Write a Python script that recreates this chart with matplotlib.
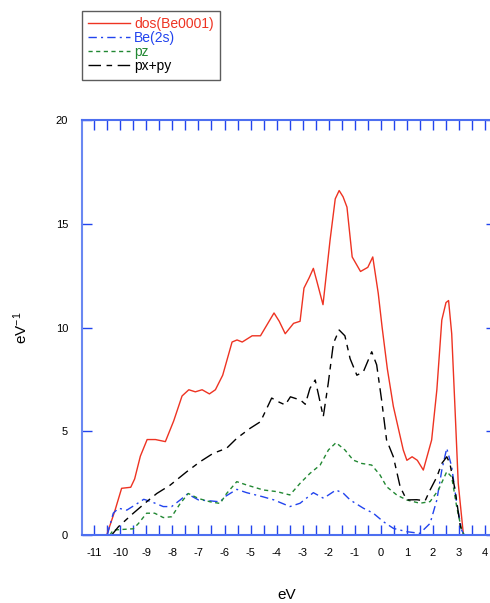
import matplotlib

matplotlib.use("Agg")
import matplotlib.pyplot as plt
from matplotlib.ticker import MultipleLocator

plt.rcParams["font.family"] = ["Liberation Sans", "DejaVu Sans"]
plt.rcParams["mathtext.default"] = "regular"
plt.rcParams["axes.unicode_minus"] = False

# total dos (Be0001 surface)
dos_x = [-10.52, -10.2, -9.95, -9.6, -9.45, -9.23, -8.97, -8.65, -8.27, -7.95, -7.63, -7.37,
         -7.12, -6.86, -6.58, -6.35, -6.07, -5.71, -5.52, -5.32, -4.94, -4.62, -4.1, -3.9,
         -3.67, -3.35, -3.1, -2.95, -2.75, -2.59, -2.45, -2.22, -1.95, -1.75, -1.6, -1.45,
         -1.3, -1.1, -0.78, -0.5, -0.31, -0.1, 0.05, 0.25, 0.48, 0.86, 1.0, 1.2, 1.4, 1.63,
         1.95, 2.15, 2.34, 2.5, 2.6, 2.72, 2.85, 2.97, 3.17]
dos_y = [0.0, 1.2, 2.25, 2.3, 2.7, 3.8, 4.6, 4.6, 4.5, 5.5, 6.7, 7.0,
         6.9, 7.0, 6.8, 7.0, 7.7, 9.3, 9.4, 9.3, 9.6, 9.6, 10.7, 10.3,
         9.7, 10.2, 10.3, 11.9, 12.4, 12.85, 12.2, 11.1, 14.2, 16.2, 16.6, 16.3,
         15.8, 13.4, 12.7, 12.9, 13.4, 11.65, 10.0, 8.0, 6.2, 4.1, 3.6, 3.77, 3.6, 3.13,
         4.58, 7.0, 10.36, 11.2, 11.3, 9.7, 6.0, 2.5, 0.0]

# Be(2s)
be2s_x = [-10.5, -10.27, -10.07, -9.75, -9.43, -9.1, -8.8, -8.35, -8.03, -7.7, -7.42, -7.0,
          -6.6, -6.17, -5.98, -5.53, -5.15, -4.55, -4.1, -3.49, -3.1, -2.59, -2.2, -1.72,
          -1.43, -1.18, -0.67, -0.29, 0.1, 0.48, 0.99, 1.5, 1.89, 2.15, 2.34, 2.53, 2.72,
          2.91, 3.1, 3.2]
be2s_y = [0.0, 1.05, 1.29, 1.2, 1.45, 1.72, 1.6, 1.37, 1.37, 1.69, 1.98, 1.69,
          1.65, 1.6, 1.85, 2.2, 2.04, 1.85, 1.69, 1.37, 1.53, 2.04, 1.77, 2.17,
          2.0, 1.69, 1.29, 1.05, 0.64, 0.32, 0.16, 0.08, 0.56, 1.69, 3.13, 4.18, 3.29,
          1.53, 0.24, 0.0]

# pz
pz_x = [-10.4, -10.27, -9.5, -9.3, -8.99, -8.68, -8.35, -8.03, -7.7, -7.39, -7.0, -6.55,
        -6.17, -5.92, -5.53, -5.15, -4.51, -3.99, -3.49, -3.1, -2.72, -2.33, -2.01, -1.72,
        -1.38, -1.06, -0.74, -0.35, -0.03, 0.22, 0.61, 0.99, 1.5, 1.89, 2.21, 2.53, 2.72,
        2.91, 3.1, 3.2]
pz_y = [0.0, 0.24, 0.3, 0.56, 1.05, 1.05, 0.84, 0.88, 1.52, 2.0, 1.76, 1.6,
        1.52, 2.0, 2.57, 2.41, 2.17, 2.09, 1.93, 2.49, 2.97, 3.37, 4.1, 4.45,
        4.1, 3.61, 3.45, 3.37, 2.89, 2.33, 1.93, 1.69, 1.53, 1.61, 2.17, 3.05, 2.8,
        1.37, 0.24, 0.0]

# px+py
pxpy_x = [-10.33, -10.07, -9.5, -8.99, -8.6, -8.09, -7.45, -6.94, -6.43, -5.92, -5.53, -5.02,
          -4.62, -4.19, -3.9, -3.67, -3.47, -3.08, -2.9, -2.72, -2.52, -2.4, -2.21, -2.02,
          -1.82, -1.6, -1.38, -1.18, -0.92, -0.67, -0.35, -0.16, 0.03, 0.22, 0.48, 0.74,
          0.99, 1.38, 1.7, 1.89, 2.15, 2.34, 2.53, 2.65, 2.85, 3.04, 3.15]
pxpy_y = [0.0, 0.4, 1.05, 1.6, 2.0, 2.4, 3.05, 3.53, 3.94, 4.18, 4.66, 5.14,
          5.46, 6.6, 6.4, 6.27, 6.66, 6.5, 6.3, 7.07, 7.47, 6.8, 5.7, 7.3,
          9.24, 9.88, 9.6, 8.5, 7.7, 7.87, 8.83, 8.2, 6.5, 4.58, 3.77, 2.33,
          1.69, 1.7, 1.65, 2.17, 2.8, 3.45, 3.77, 3.45, 2.17, 0.5, 0.0]

W, H = 490, 603
fig = plt.figure(figsize=(W / 100, H / 100), dpi=100)
left, right, top, bottom = 82, 496, 120, 535
ax = fig.add_axes([left / W, 1 - bottom / H, (right - left) / W, (bottom - top) / H])

l1, = ax.plot(dos_x, dos_y, color="#ee3322", lw=1.0, label="dos(Be0001)")
l2, = ax.plot(be2s_x, be2s_y, color="#2244ee", lw=1.0, dashes=[6, 3, 1.5, 3],
              label="Be(2s)")
l3, = ax.plot(pz_x, pz_y, color="#228833", lw=1.0, dashes=[3, 2.5], label="pz")
l4, = ax.plot(pxpy_x, pxpy_y, color="black", lw=1.0, dashes=[9, 4, 4, 4],
              label="px+py")

ax.set_xlim(-11.47, 4.42)
ax.set_ylim(0, 20)

spine_col = "#4d6ff0"
for side in ["left", "right", "top", "bottom"]:
    ax.spines[side].set_color(spine_col)
    ax.spines[side].set_linewidth(1.5)
ax.spines["left"].set_color("#6a88f2")

ax.xaxis.set_major_locator(MultipleLocator(1))
ax.xaxis.set_minor_locator(MultipleLocator(0.5))
ax.yaxis.set_major_locator(MultipleLocator(5))
ax.tick_params(axis="both", which="both", direction="in", color="#2244ee",
               top=True, right=True, labelsize=8)
ax.tick_params(axis="x", which="major", length=7, width=1.0, pad=9)
ax.tick_params(axis="x", which="minor", length=7, width=1.0)
ax.tick_params(axis="y", which="major", length=7, width=1.0, pad=10)

ax.set_xlabel("eV", fontsize=11)
ax.xaxis.set_label_coords((287 - left) / (right - left), -(588 - bottom) / (bottom - top))
ax.set_ylabel("eV$^{-1}$", fontsize=11)
ax.yaxis.set_label_coords((30 - left) / (right - left), 0.5)

leg = fig.legend(handles=[l1, l2, l3, l4], loc="upper left",
                 bbox_to_anchor=(left / W, 1 - 11 / H), fontsize=10,
                 handlelength=3.0, handletextpad=0.3, labelspacing=0.0,
                 borderpad=0.45, frameon=True, fancybox=False, borderaxespad=0)
leg.get_frame().set_edgecolor("#333333")
leg.get_frame().set_linewidth(1.0)
for txt, line in zip(leg.get_texts(), [l1, l2, l3, l4]):
    txt.set_color(line.get_color())

fig.savefig("out.png", dpi=100)
